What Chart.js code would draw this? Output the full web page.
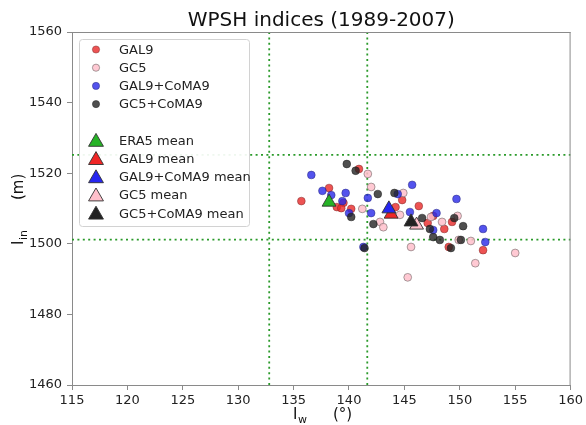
<!DOCTYPE html>
<html><head><meta charset="utf-8">
<script src="https://cdn.jsdelivr.net/npm/chart.js@4.4.0/dist/chart.umd.min.js"></script>
<style>html,body{margin:0;padding:0;background:#fff;}#wrap{width:586px;height:425px;}</style>
</head><body><div id="wrap"><canvas id="c" width="586" height="425"></canvas></div>
<script>
// ---------- data ----------
const chartTitle = 'WPSH indices (1989-2007)';
const xTicks = [115, 120, 125, 130, 135, 140, 145, 150, 155, 160];
const yTicks = [1460, 1480, 1500, 1520, 1540, 1560];
const xRefLines = [132.8, 141.65];
const yRefLines = [1525.2, 1501.2];

const seriesNames = ['GAL9', 'GC5', 'GAL9+CoMA9', 'GC5+CoMA9'];
const gal9X = [135.7, 138.2, 139.5, 138.9, 139.3, 140.2, 140.9, 144.8, 146.3, 144.2, 147.1, 147.6, 149.3, 148.6, 149.0, 152.1];
const gal9Y = [1512.1, 1515.8, 1511.6, 1510.4, 1510.1, 1509.9, 1521.2, 1512.4, 1510.7, 1510.4, 1505.9, 1507.9, 1506.2, 1504.2, 1499.1, 1498.2];
const gc5X = [141.7, 142.0, 141.2, 144.9, 144.6, 147.4, 142.8, 143.1, 145.6, 145.3, 148.4, 149.8, 149.9, 151.0, 155.0, 151.4];
const gc5Y = [1519.8, 1516.1, 1509.9, 1514.4, 1508.2, 1507.6, 1506.2, 1504.7, 1499.1, 1490.5, 1506.2, 1507.9, 1501.1, 1500.8, 1497.4, 1494.5];
const gal9ComaX = [136.6, 137.6, 138.4, 139.7, 139.4, 140.0, 141.7, 142.0, 145.7, 144.4, 145.5, 147.9, 147.6, 149.7, 152.1, 152.3, 141.3];
const gal9ComaY = [1519.5, 1515.0, 1513.8, 1514.4, 1512.1, 1508.7, 1513.0, 1508.7, 1516.7, 1514.1, 1509.0, 1508.7, 1503.9, 1512.7, 1504.2, 1500.5, 1499.1];
const gc5ComaX = [139.8, 140.6, 140.2, 142.6, 144.1, 142.2, 146.6, 147.3, 147.6, 148.2, 150.1, 149.2, 149.5, 150.3, 141.4];
const gc5ComaY = [1522.6, 1520.7, 1507.6, 1514.1, 1514.4, 1505.6, 1507.3, 1504.2, 1501.9, 1501.1, 1501.1, 1498.8, 1507.3, 1505.0, 1498.8];

const meanNames = ['ERA5 mean', 'GAL9 mean', 'GAL9+CoMA9 mean', 'GC5 mean', 'GC5+CoMA9 mean'];
const meanX = [138.2, 143.8, 143.6, 146.1, 145.6];
const meanY = [1511.8, 1508.4, 1509.9, 1505.3, 1506.2];

// ---------- styles ----------
const circleFill = ['rgba(232,40,40,0.8)', 'rgba(255,192,203,0.85)', 'rgba(40,40,232,0.8)', 'rgba(35,35,35,0.8)'];
const circleEdge = ['rgba(120,40,40,0.6)', 'rgba(120,110,110,0.8)', 'rgba(40,40,120,0.6)', 'rgba(30,30,30,0.6)'];
const meanFill = ['#26b326', '#f02626', '#2626f0', '#ffc0cb', '#222222'];
const meanEdge = 'rgba(50,50,50,0.9)';
const refColor = '#2a9a2a';
const spineColor = '#8a8a8a';
const FONT = '"DejaVu Sans", sans-serif';

const pts = (xs, ys) => xs.map((x, i) => ({x: x, y: ys[i]}));
const seriesX = [gal9X, gc5X, gal9ComaX, gc5ComaX];
const seriesY = [gal9Y, gc5Y, gal9ComaY, gc5ComaY];

const datasets = [];
xRefLines.forEach(v => datasets.push({label: '_v', data: [{x: v, y: yTicks[0]}, {x: v, y: yTicks[yTicks.length - 1]}],
  showLine: true, pointRadius: 0, borderColor: refColor, borderWidth: 1.8, borderDash: [2, 3.4], fill: false}));
yRefLines.forEach(v => datasets.push({label: '_h', data: [{x: xTicks[0], y: v}, {x: xTicks[xTicks.length - 1], y: v}],
  showLine: true, pointRadius: 0, borderColor: refColor, borderWidth: 1.8, borderDash: [2, 3.4], fill: false}));
seriesNames.forEach((n, i) => datasets.push({label: n, data: pts(seriesX[i], seriesY[i]), pointStyle: 'circle',
  pointRadius: 3.9, backgroundColor: circleFill[i], borderColor: circleEdge[i], borderWidth: 0.8, legendKind: 'circle'}));
meanNames.forEach((n, i) => datasets.push({label: n, data: [{x: meanX[i], y: meanY[i]}], pointStyle: 'triangle',
  pointRadius: 8, backgroundColor: meanFill[i], borderColor: meanEdge, borderWidth: 1, legendKind: 'triangle'}));
// later datasets drawn on top
datasets.forEach((d, i) => { d.order = datasets.length - i; d.pointHoverRadius = d.pointRadius; });

function drawMarker(ctx, kind, x, y, r, fill, edge, lw) {
  ctx.beginPath();
  if (kind === 'circle') {
    ctx.arc(x, y, r, 0, Math.PI * 2);
  } else {
    let rad = 0;
    ctx.moveTo(x + Math.sin(rad) * r, y - Math.cos(rad) * r);
    rad += 2 * Math.PI / 3;
    ctx.lineTo(x + Math.sin(rad) * r, y - Math.cos(rad) * r);
    rad += 2 * Math.PI / 3;
    ctx.lineTo(x + Math.sin(rad) * r, y - Math.cos(rad) * r);
    ctx.closePath();
  }
  ctx.fillStyle = fill; ctx.fill();
  ctx.lineWidth = lw; ctx.strokeStyle = edge; ctx.stroke();
}

const decor = {
  id: 'decor',
  afterDraw(chart) {
    const ctx = chart.ctx, a = chart.chartArea;
    ctx.save();
    // top & right spines
    ctx.strokeStyle = spineColor; ctx.lineWidth = 1;
    ctx.beginPath();
    ctx.moveTo(a.left, a.top + 0.5); ctx.lineTo(a.right, a.top + 0.5);
    ctx.moveTo(a.right - 0.5, a.top); ctx.lineTo(a.right - 0.5, a.bottom);
    ctx.stroke();

    // title
    ctx.fillStyle = '#111';
    ctx.font = '20px ' + FONT;
    ctx.textAlign = 'center'; ctx.textBaseline = 'alphabetic';
    ctx.fillText(chartTitle, (a.left + a.right) / 2, 26);

    // legend box
    const bx = 79.5, by = 39.5, bw = 170, bh = 187;
    ctx.beginPath();
    ctx.roundRect(bx, by, bw, bh, 3);
    ctx.fillStyle = 'rgba(255,255,255,0.92)'; ctx.fill();
    ctx.strokeStyle = '#d2d2d2'; ctx.lineWidth = 1; ctx.stroke();
    const entries = chart.data.datasets.filter(d => d.legendKind);
    const rows = [];
    entries.forEach(d => { if (d.legendKind === 'triangle' && rows.length === 4) rows.push(null); rows.push(d); });
    ctx.font = '13px ' + FONT; ctx.textAlign = 'left'; ctx.textBaseline = 'middle';
    rows.forEach((d, i) => {
      if (!d) return;
      const y = 49.5 + i * 18.2;
      if (d.legendKind === 'circle') drawMarker(ctx, 'circle', 96, y, 3.6, d.backgroundColor, d.borderColor, 0.8);
      else drawMarker(ctx, 'triangle', 96, y + 1.5, 8.6, d.backgroundColor, d.borderColor, 1);
      ctx.fillStyle = '#222';
      ctx.fillText(d.label, 119, y + 1);
    });

    // x axis title: I_w   (°)
    ctx.textBaseline = 'alphabetic'; ctx.fillStyle = '#111';
    ctx.font = '15px ' + FONT;
    ctx.fillText('I', 293, 419);
    const wI = ctx.measureText('I').width;
    ctx.font = '11px ' + FONT;
    ctx.fillText('w', 293 + wI + 0.5, 422.5);
    ctx.font = '15px ' + FONT;
    ctx.fillText('(°)', 333, 419);

    // y axis title: I_in   (m)  (rotated)
    ctx.save();
    ctx.translate(23, 245);
    ctx.rotate(-Math.PI / 2);
    ctx.font = '15px ' + FONT;
    ctx.fillText('I', 0, 0);
    const wI2 = ctx.measureText('I').width;
    ctx.font = '11px ' + FONT;
    ctx.fillText('in', wI2 + 0.5, 3.5);
    ctx.font = '15px ' + FONT;
    ctx.fillText('(m)', 45, 0);
    ctx.restore();

    ctx.restore();
  }
};

Chart.defaults.font.family = FONT;
Chart.defaults.font.size = 13;
Chart.defaults.color = '#222';

new Chart(document.getElementById('c'), {
  type: 'scatter',
  data: {datasets: datasets},
  options: {
    responsive: false, animation: false, devicePixelRatio: 1,
    layout: {padding: {top: 32, right: 15, left: 0, bottom: 0}},
    plugins: {legend: {display: false}, title: {display: false}, tooltip: {enabled: false}},
    scales: {
      x: {
        type: 'linear', min: xTicks[0], max: xTicks[xTicks.length - 1],
        afterBuildTicks: s => { s.ticks = xTicks.map(v => ({value: v})); },
        afterFit: s => { s.height = 40; },
        ticks: {callback: v => String(v), padding: 3, maxRotation: 0, autoSkip: false, color: '#222', font: {size: 13}},
        grid: {display: true, drawOnChartArea: false, drawTicks: true, tickLength: 5, color: spineColor},
        border: {display: true, color: spineColor, width: 1}
      },
      y: {
        type: 'linear', min: yTicks[0], max: yTicks[yTicks.length - 1],
        afterBuildTicks: s => { s.ticks = yTicks.map(v => ({value: v})); },
        afterFit: s => { s.width = 72; },
        ticks: {callback: v => String(v), padding: 5, autoSkip: false, color: '#222', font: {size: 13}},
        grid: {display: true, drawOnChartArea: false, drawTicks: true, tickLength: 5, color: spineColor},
        border: {display: true, color: spineColor, width: 1}
      }
    }
  },
  plugins: [decor]
});
</script>
</body></html>
